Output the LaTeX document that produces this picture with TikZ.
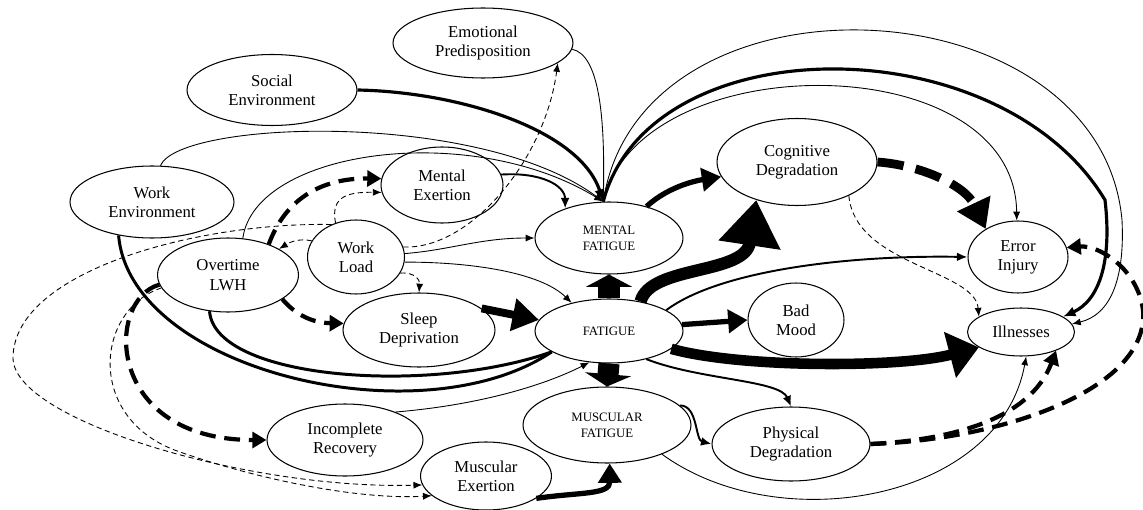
\documentclass[tikz,border=0pt]{standalone}
\usepackage{fontspec}
\setmainfont{Liberation Serif}
\usepackage{tikz}
\usetikzlibrary{arrows.meta, shapes.geometric}

\tikzset{
  factor/.style={ellipse, draw, line width=0.6pt, align=center, inner sep=0pt, font=\fontsize{9.5}{11}\selectfont},
  state/.style={factor, font=\fontsize{7.3}{9}\selectfont},
  lnk/.style={line width=0.5pt, -{Latex[length=5pt,width=4pt]}},
  lnkdash/.style={lnk, dash pattern=on 3pt off 2pt},
  midlnk/.style={line width=1.1pt, -{Latex[length=6pt,width=5pt]}},
  strong/.style={line width=1.8pt, -{Latex[length=7pt,width=6pt]}},
  heavyline/.style={line width=1.7pt},
  heavylnk/.style={line width=3pt, -{Triangle[length=11pt,width=13pt]}},
  broad/.style={line width=4.5pt, -{Triangle[length=15pt,width=18pt]}},
  heavydash/.style={line width=2.4pt, dash pattern=on 9pt off 5pt, -{Triangle[length=8pt,width=9pt]}},
  bigdash/.style={line width=5pt, dash pattern=on 15pt off 7pt, -{Triangle[length=16pt,width=20pt]}},
  wide/.style={line width=6pt, -{Triangle[length=17pt,width=26pt]}},
  surge/.style={line width=7pt, -{Triangle[length=26pt,width=34pt]}},
  block/.style={line width=12pt, -{Triangle[length=7pt,width=26pt]}}
}

\begin{document}
\begin{tikzpicture}[x=0.02cm, y=-0.02cm]
    \useasboundingbox (0,0) rectangle (1143,510);

    % Causes
    \node[factor, minimum width=3.6cm, minimum height=1.4cm] (emo) at (483,43) {Emotional\\Predisposition};
    \node[factor, minimum width=3.4cm, minimum height=1.42cm] (soc) at (272,90) {Social\\Environment};
    \node[factor, minimum width=3.28cm, minimum height=1.44cm] (wenv) at (152,202) {Work\\Environment};
    \node[factor, minimum width=2.44cm, minimum height=1.52cm] (mexe) at (442,185) {Mental\\Exertion};
    \node[factor, minimum width=1.94cm, minimum height=1.48cm] (wload) at (356,257) {Work\\Load};
    \node[factor, minimum width=2.82cm, minimum height=1.48cm] (over) at (228,275) {Overtime\\LWH};
    \node[factor, minimum width=3.04cm, minimum height=1.48cm] (sleep) at (419,330) {Sleep\\Deprivation};
    \node[factor, minimum width=3.12cm, minimum height=1.44cm] (incr) at (345,440) {Incomplete\\Recovery};
    \node[factor, minimum width=2.62cm, minimum height=1.36cm] (musx) at (486,476) {Muscular\\Exertion};

    % Fatigue states
    \node[state, minimum width=2.96cm, minimum height=1.44cm] (mfat) at (609,238) {MENTAL\\FATIGUE};
    \node[state, minimum width=2.96cm, minimum height=1.28cm] (fat) at (609,331) {FATIGUE};
    \node[state, minimum width=3.36cm, minimum height=1.52cm] (musf) at (607,425) {MUSCULAR\\FATIGUE};

    % Outcomes
    \node[factor, minimum width=3.2cm, minimum height=1.74cm] (cogd) at (797,162) {Cognitive\\Degradation};
    \node[factor, minimum width=1.92cm, minimum height=1.48cm] (mood) at (796,320) {Bad\\Mood};
    \node[factor, minimum width=2cm, minimum height=1.44cm] (err) at (1018,257) {Error\\Injury};
    \node[factor, minimum width=2.14cm, minimum height=0.96cm] (ill) at (1021,332) {Illnesses};
    \node[factor, minimum width=3.16cm, minimum height=1.48cm] (phys) at (791,444) {Physical\\Degradation};

    % Into mental fatigue
    \draw[strong] (soc.east) .. controls (460,92) and (580,130) .. (mfat.99);
    \draw[lnk] (emo.-4) .. controls (600,55) and (605,120) .. (mfat.99);
    \draw[lnk] (wenv.77) .. controls (180,120) and (480,110) .. (mfat.99);
    \draw[lnk] (over.68) .. controls (255,150) and (470,120) .. (mfat.99);
    \draw[midlnk] (mexe.10) .. controls (540,172) and (565,185) .. (mfat.146);
    \draw[lnk] (wload.4) .. controls (450,250) and (480,238) .. (mfat.west);

    % Work load
    \draw[lnkdash] (wload.12) .. controls (470,250) and (545,160) .. (emo.-15);
    \draw[lnkdash] (wload.-20) .. controls (415,272) and (420,280) .. (sleep.north);
    \draw[lnkdash] (wload.160) .. controls (300,238) and (290,242) .. (over.27);
    \draw[lnkdash] (wload.121) .. controls (330,195) and (350,192) .. (mexe.187);
    \draw[lnkdash] (wload.127) .. controls (200,222) and (15,270) .. (13,357)
        .. controls (11,420) and (250,490) .. (musx.188);
    \draw[lnk] (wload.-6) .. controls (470,262) and (540,272) .. (fat.143);

    % Overtime and work environment
    \draw[heavydash] (over.37) .. controls (285,200) and (320,178) .. (mexe.174);
    \draw[heavydash] (over.-24) .. controls (300,320) and (320,323) .. (sleep.175);
    \draw[heavydash] (over.188) .. controls (105,300) and (105,440) .. (incr.west);
    \draw[lnkdash] (over.191) .. controls (95,310) and (85,420) .. (180,452)
        .. controls (260,480) and (360,500) .. (musx.200);
    \draw[heavyline] (over.-117) .. controls (215,380) and (430,395) .. (fat.200);
    \draw[heavyline] (wenv.-135) .. controls (130,370) and (420,440) .. (fat.200);

    % Into fatigue
    \draw[broad] (sleep.19) -- (fat.171);
    \draw[lnk] (incr.29) .. controls (480,405) and (545,385) .. (fat.-122);
    \draw[block] (fat.north) -- (mfat.south);
    \draw[block] (fat.south) -- (musf.north);
    \draw[heavylnk] (musx.-24) .. controls (580,492) and (610,495) .. (musf.-86);

    % Out of fatigue
    \draw[surge] (fat.43) .. controls (650,265) and (745,275) .. (cogd.-137);
    \draw[heavylnk] (mfat.40) .. controls (670,185) and (700,180) .. (cogd.191);
    \draw[heavylnk] (fat.5) -- (mood.west);
    \draw[midlnk] (fat.20) .. controls (720,270) and (850,255) .. (err.west);
    \draw[wide] (fat.-16) .. controls (740,368) and (900,368) .. (ill.200);
    \draw[midlnk] (fat.-37) .. controls (700,380) and (780,380) .. (phys.north);
    \draw[midlnk] (musf.15) .. controls (698,405) and (695,440) .. (phys.west);
    \draw[lnk] (musf.-28) .. controls (780,540) and (1000,500) .. (ill.-78);

    % Towards errors and illnesses
    \draw[lnk] (mfat.99) .. controls (640,45) and (1015,45) .. (err.92);
    \draw[strong] (mfat.99) .. controls (650,25) and (1000,25) .. (1105,200)
        .. controls (1112,260) and (1100,300) .. (ill.20);
    \draw[lnk] (mfat.99) .. controls (640,-40) and (1100,-20) .. (1122,220)
        .. controls (1125,280) and (1110,315) .. (ill.9);
    \draw[bigdash] (cogd.east) .. controls (920,165) and (965,185) .. (err.139);
    \draw[lnkdash] (cogd.-33) .. controls (855,265) and (975,270) .. (ill.160);
    \draw[heavydash] (phys.east) .. controls (950,440) and (1030,420) .. (ill.-28);
    \draw[heavydash] (phys.east) .. controls (1000,440) and (1150,390) .. (1143,310)
        .. controls (1138,270) and (1100,245) .. (err.11);
\end{tikzpicture}
\end{document}
